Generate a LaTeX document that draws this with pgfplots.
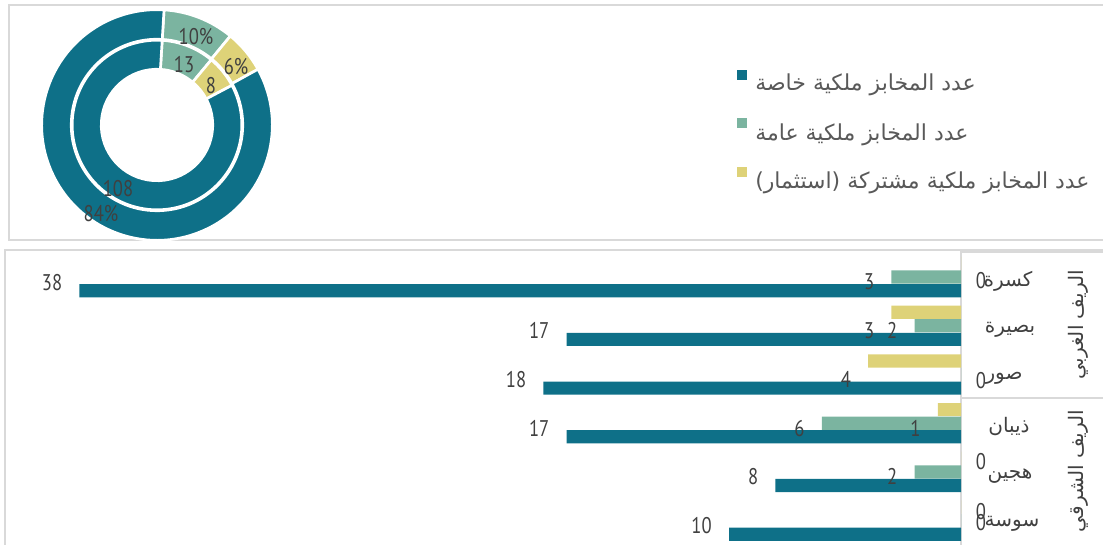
\documentclass[border=0pt]{standalone}
\usepackage{fontspec}
\usepackage{pgfplots}
\usepackage{pgfplotstable}
\pgfplotsset{compat=1.18}
\setmainfont{PT Sans}
\newfontfamily\arabicfont[Script=Arabic]{DejaVu Sans}
\TeXXeTstate=1
\definecolor{cteal}{RGB}{14,112,136}
\definecolor{cgreen}{RGB}{123,180,160}
\definecolor{cyellow}{RGB}{222,210,120}
\definecolor{cframe}{RGB}{217,217,217}
\definecolor{ctext}{RGB}{64,64,64}
\definecolor{clegend}{RGB}{89,89,89}
\newcommand{\AR}[1]{{\arabicfont\beginR #1\endR}}
\newcommand{\dig}[1]{\scalebox{0.82}[1]{#1}}
\newcommand{\labfont}{\fontsize{17}{20}\selectfont}
\newcommand{\legfont}{\fontsize{16.5}{19}\selectfont}
\newcommand{\catfont}{\fontsize{15}{18}\selectfont}
\newcommand{\grpfont}{\fontsize{15}{18}\selectfont}

\pgfplotstableread{
cat teal green yellow
5 38 3 0
4 17 2 3
3 18 0 4
2 17 6 1
1 8 2 0
0 10 0 0
}\bardata

% donut: inner ring counts, outer ring percentages
\def\cntTeal{108}\def\cntGreen{13}\def\cntYellow{8}
\def\pctTeal{84}\def\pctGreen{10}\def\pctYellow{6}

\begin{document}
\begin{tikzpicture}[x=0.75pt,y=0.75pt]

% panel frames
\draw[cframe, line width=1.2pt] (1103,540) -- (9,540) -- (9,305) -- (1103,305);
\draw[cframe, line width=1.2pt] (1103,295) -- (5,295) -- (5,0);
\draw[cframe, line width=1.2pt] (961,0) -- (961,293) -- (1103,293);
\draw[cframe, line width=1.2pt] (961,147) -- (1103,147);

% ---------- donut ----------
\pgfmathsetmacro{\tc}{\cntTeal+\cntGreen+\cntYellow}
\pgfmathsetmacro{\aA}{86.5}
\pgfmathsetmacro{\aB}{\aA-360*\cntGreen/\tc}
\pgfmathsetmacro{\aC}{\aB-360*\cntYellow/\tc}
\pgfmathsetmacro{\aD}{\aA-360}
\pgfmathsetmacro{\tp}{\pctTeal+\pctGreen+\pctYellow}
\pgfmathsetmacro{\bB}{\aA-360*\pctGreen/\tp}
\pgfmathsetmacro{\bC}{\bB-360*\pctYellow/\tp}
\begin{axis}[at={(117.75pt,315pt)}, anchor=center, hide axis, scale only axis,
  x=0.75pt, y=0.75pt, xmin=-120, xmax=120, ymin=-120, ymax=120, clip=false]
\begin{scope}[shift={(axis cs:0,0)}]
\def\sect#1#2#3#4#5{\fill[#1, draw=white, line width=2pt] (#2:#5pt) arc[start angle=#2, end angle=#3, radius=#5pt] -- (#3:#4pt) arc[start angle=#3, end angle=#2, radius=#4pt] -- cycle;}
% outer ring
\sect{cgreen}{\aA}{\bB}{64.3}{86.5}
\sect{cyellow}{\bB}{\bC}{64.3}{86.5}
\sect{cteal}{\bC}{\aD}{64.3}{86.5}
% inner ring
\sect{cgreen}{\aA}{\aB}{41.8}{63.6}
\sect{cyellow}{\aB}{\aC}{41.8}{63.6}
\sect{cteal}{\aC}{\aD}{41.8}{63.6}
\end{scope}
\end{axis}
\begin{scope}[font=\labfont, text=ctext]
\node at (196,508) {\dig{\pctGreen\%}};
\node at (236,478) {\dig{\pctYellow\%}};
\node at (184,480) {\dig{\cntGreen}};
\node at (211,459) {\dig{\cntYellow}};
\node at (118,356) {\dig{\cntTeal}};
\node at (101,331) {\dig{\pctTeal\%}};
\end{scope}

% legend
\fill[cteal] (737,465) rectangle (747,475);
\fill[cgreen] (737,417) rectangle (747,427);
\fill[cyellow] (737,368) rectangle (747,378);
\begin{scope}[font=\legfont, text=clegend]
\node[anchor=west, inner sep=0pt] at (755,460) {\AR{عدد المخابز ملكية خاصة}};
\node[anchor=west, inner sep=0pt] at (755,410) {\AR{عدد المخابز ملكية عامة}};
\node[anchor=west, inner sep=0pt] at (755,362) {\AR{عدد المخابز ملكية مشتركة (استثمار)}};
\end{scope}

% ---------- bars (drawn leftwards: x = -value) ----------
\begin{axis}[at={(24.75pt,0pt)}, anchor=south west, scale only axis,
  width=696pt, height=219.2pt,
  xmin=-40, xmax=0,
  ymin=-0.5, ymax=5.5,
  hide axis, clip=false,
  /pgf/number format/assume math mode=true]
\pgfplotsset{barlab/.style={point meta=explicit,
  nodes near coords={\dig{\pgfmathfloatifflags{\pgfplotspointmeta}{0}{}{\pgfmathprintnumber{\pgfplotspointmeta}}}},
  every node near coord/.append style={anchor=east, inner sep=0pt, xshift=-12.75pt, yshift=-3.75pt, font=\labfont, text=ctext}}}
\addplot[xbar, bar width=9.9pt, bar shift=10.2pt, fill=cyellow, draw=none, barlab]
  table[x expr=-\thisrow{yellow}, y=cat, meta=yellow] {\bardata};
\addplot[xbar, bar width=9.9pt, bar shift=0pt, fill=cgreen, draw=none, barlab]
  table[x expr=-\thisrow{green}, y=cat, meta=green] {\bardata};
\addplot[xbar, bar width=9.9pt, bar shift=-10.2pt, fill=cteal, draw=none, barlab]
  table[x expr=-\thisrow{teal}, y=cat, meta=teal] {\bardata};
% labels of the zero values
\addplot[draw=none, mark=none, nodes near coords={\dig{0}},
  every node near coord/.append style={anchor=center, inner sep=0pt, xshift=15pt, font=\labfont, text=ctext}]
  coordinates {(0,4.92) (0,2.885) (0,1.21) (0,0.195) (0,-0.04)};
\end{axis}

% category labels
\begin{scope}[font=\catfont, text=ctext]
\node at (1008,264) {\AR{كسرة}};
\node at (1010,215) {\AR{بصيرة}};
\node at (1004,167) {\AR{صور}};
\node at (1009,118) {\AR{ذيبان}};
\node at (1010,69) {\AR{هجين}};
\node at (1012,21) {\AR{سوسة}};
\end{scope}
\begin{scope}[font=\grpfont, text=ctext]
\node[rotate=90] at (1078,220) {\AR{الريف الغربي}};
\node[rotate=90] at (1078,74) {\AR{الريف الشرقي}};
\end{scope}

\pgfresetboundingbox
\path (0,0) rectangle (1103,545);
\end{tikzpicture}
\end{document}
